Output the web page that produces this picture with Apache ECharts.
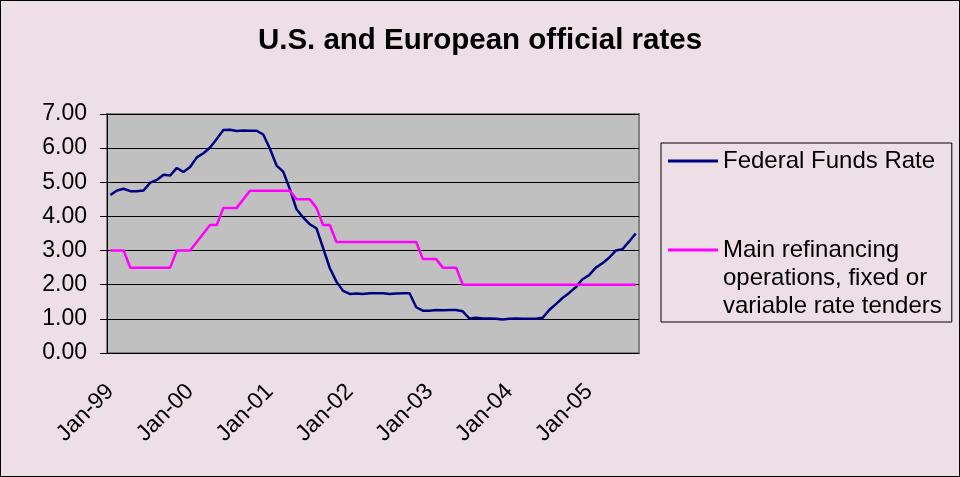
<!DOCTYPE html>
<html>
<head>
<meta charset="utf-8">
<title>U.S. and European official rates</title>
<script src="https://cdn.jsdelivr.net/npm/echarts@6/dist/echarts.min.js"></script>
<style>
  html, body { margin: 0; padding: 0; }
  #main { width: 960px; height: 477px; box-sizing: border-box; border: 1px solid #000; }
</style>
</head>
<body>
<div id="main"></div>
<script type="text/javascript">
// monthly, Jan-99 .. Aug-05
var monthNames = ['Jan','Feb','Mar','Apr','May','Jun','Jul','Aug','Sep','Oct','Nov','Dec'];
var years = ['99','00','01','02','03','04','05'];
var months = [];
years.forEach(function (y) {
    monthNames.forEach(function (m) { months.push(m + '-' + y); });
});
months = months.slice(0, 80);

var fedFunds = [
    4.63, 4.76, 4.81, 4.74, 4.74, 4.76, 4.99, 5.07, 5.22, 5.20, 5.42, 5.30,
    5.45, 5.73, 5.85, 6.02, 6.27, 6.53, 6.54, 6.50, 6.52, 6.51, 6.51, 6.40,
    5.98, 5.49, 5.31, 4.80, 4.21, 3.97, 3.77, 3.65, 3.07, 2.49, 2.09, 1.82,
    1.73, 1.74, 1.73, 1.75, 1.75, 1.75, 1.73, 1.74, 1.75, 1.75, 1.34, 1.24,
    1.24, 1.26, 1.25, 1.26, 1.26, 1.22, 1.01, 1.03, 1.01, 1.01, 1.00, 0.98,
    1.00, 1.01, 1.00, 1.00, 1.00, 1.03, 1.26, 1.43, 1.61, 1.76, 1.93, 2.16,
    2.28, 2.50, 2.63, 2.79, 3.00, 3.04, 3.26, 3.50
];

var ecbRate = [
    3.00, 3.00, 3.00, 2.50, 2.50, 2.50, 2.50, 2.50, 2.50, 2.50, 3.00, 3.00,
    3.00, 3.25, 3.50, 3.75, 3.75, 4.25, 4.25, 4.25, 4.50, 4.75, 4.75, 4.75,
    4.75, 4.75, 4.75, 4.75, 4.50, 4.50, 4.50, 4.25, 3.75, 3.75, 3.25, 3.25,
    3.25, 3.25, 3.25, 3.25, 3.25, 3.25, 3.25, 3.25, 3.25, 3.25, 3.25, 2.75,
    2.75, 2.75, 2.50, 2.50, 2.50, 2.00, 2.00, 2.00, 2.00, 2.00, 2.00, 2.00,
    2.00, 2.00, 2.00, 2.00, 2.00, 2.00, 2.00, 2.00, 2.00, 2.00, 2.00, 2.00,
    2.00, 2.00, 2.00, 2.00, 2.00, 2.00, 2.00, 2.00
];

var fedName = 'Federal Funds Rate';
var ecbName = 'Main refinancing\noperations, fixed or\nvariable rate tenders';

var font = 'Arial, "Liberation Sans", sans-serif';

var myChart = echarts.init(document.getElementById('main'));

myChart.setOption({
    backgroundColor: '#EEDEE6',
    animation: false,
    title: {
        text: 'U.S. and European official rates',
        left: 'center',
        top: 20,
        textStyle: { fontFamily: font, fontSize: 29.5, fontWeight: 'bold', color: '#000' }
    },
    legend: {
        orient: 'vertical',
        left: 660,
        top: 142,
        padding: [4, 10, 2, 7],
        itemGap: 5,
        itemWidth: 50,
        itemHeight: 3,
        icon: 'rect',
        borderColor: '#000',
        borderWidth: 1,
        textStyle: { fontFamily: font, fontSize: 24, lineHeight: 28, color: '#000' },
        // keep the icon level with the first line of a wrapped name
        formatter: function (name) {
            return name === ecbName ? '\n\n' + name : name;
        },
        data: [fedName, ecbName]
    },
    grid: {
        left: 106,
        top: 113,
        width: 532,
        height: 239,
        show: true,
        backgroundColor: '#C0C0C0',
        borderColor: '#808080',
        borderWidth: 2
    },
    xAxis: {
        type: 'category',
        data: months,
        boundaryGap: true,
        axisLine: { lineStyle: { color: '#000', width: 1 } },
        axisTick: { interval: 11, length: 6, lineStyle: { color: '#000' } },
        axisLabel: {
            interval: 11,
            rotate: 45,
            margin: 35,
            fontFamily: font,
            fontSize: 23,
            color: '#000'
        },
        splitLine: { show: false }
    },
    yAxis: {
        type: 'value',
        min: 0,
        max: 7,
        interval: 1,
        axisLine: { show: true, lineStyle: { color: '#000', width: 1 } },
        axisTick: { show: true, length: 7, lineStyle: { color: '#000' } },
        axisLabel: {
            margin: 20,
            fontFamily: font,
            fontSize: 23,
            color: '#000',
            formatter: function (v) { return v.toFixed(2); }
        },
        splitLine: { lineStyle: { color: '#000', width: 1 } }
    },
    series: [
        {
            name: fedName,
            type: 'line',
            data: fedFunds,
            symbol: 'none',
            lineStyle: { color: '#000080', width: 2.5 },
            itemStyle: { color: '#000080' }
        },
        {
            name: ecbName,
            type: 'line',
            data: ecbRate,
            symbol: 'none',
            lineStyle: { color: '#FF00FF', width: 2.5 },
            itemStyle: { color: '#FF00FF' }
        }
    ]
});

window.onresize = function () {
    myChart.resize();
};
</script>
</body>
</html>
